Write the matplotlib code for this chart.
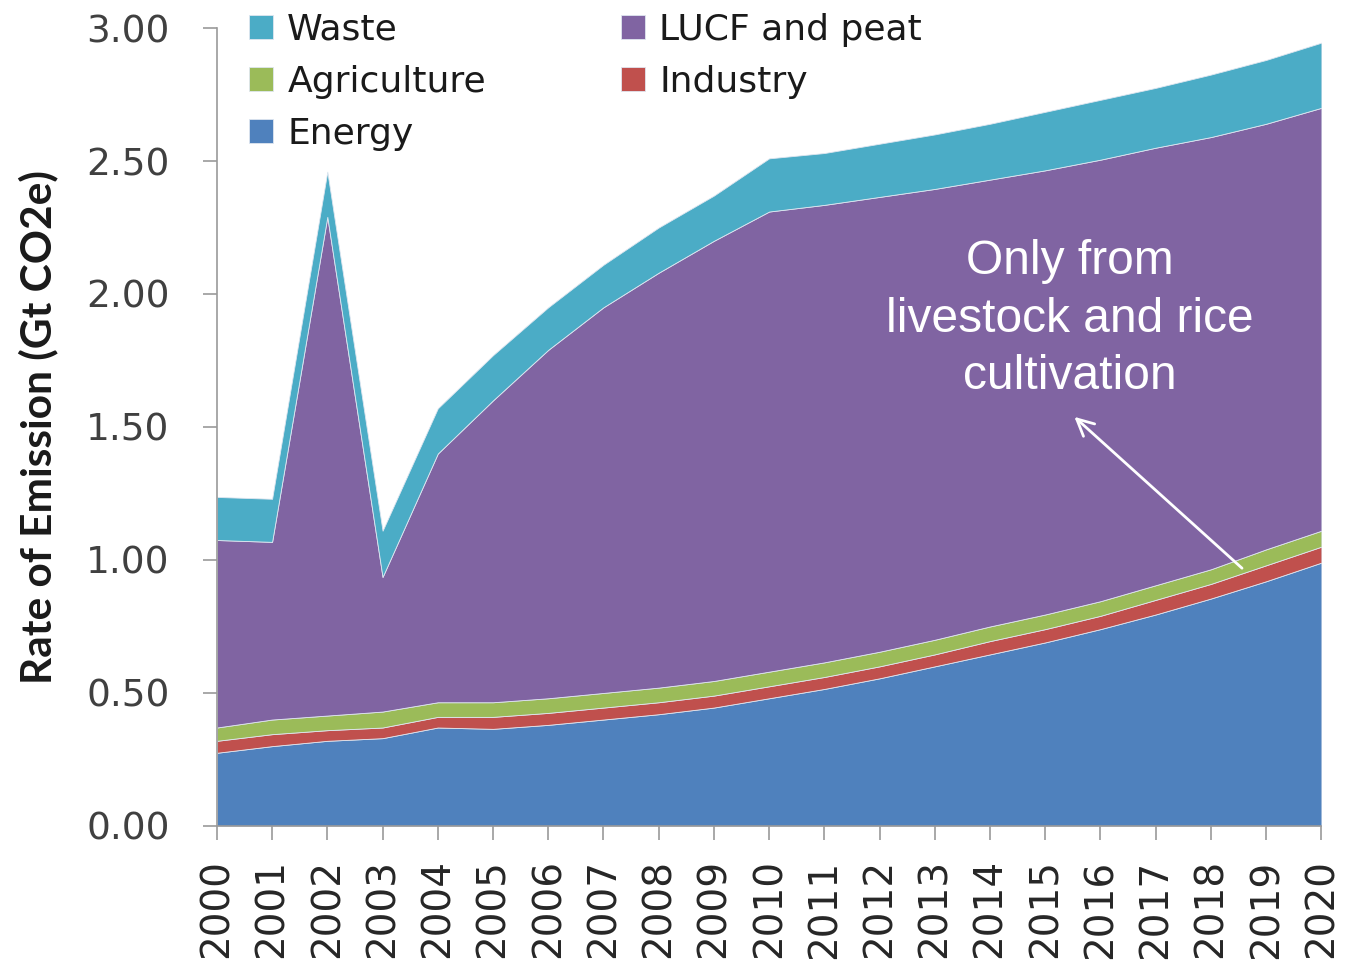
import matplotlib
matplotlib.use("Agg")
import matplotlib.pyplot as plt
import numpy as np

years = list(range(2000, 2021))
energy = [0.275, 0.30, 0.32, 0.33, 0.37, 0.365, 0.38, 0.40, 0.42, 0.445, 0.48,
          0.515, 0.555, 0.60, 0.645, 0.69, 0.74, 0.795, 0.855, 0.92, 0.99]
industry = [0.045, 0.045, 0.04, 0.04, 0.04, 0.045, 0.045, 0.045, 0.045, 0.045, 0.045,
            0.045, 0.045, 0.045, 0.05, 0.05, 0.05, 0.055, 0.055, 0.06, 0.06]
agriculture = [0.05, 0.055, 0.055, 0.06, 0.055, 0.055, 0.055, 0.055, 0.055, 0.055, 0.055,
               0.055, 0.055, 0.055, 0.055, 0.055, 0.055, 0.055, 0.055, 0.06, 0.06]
lucf = [0.705, 0.668, 1.875, 0.506, 0.935, 1.135, 1.31, 1.45, 1.56, 1.655, 1.73,
        1.72, 1.71, 1.695, 1.68, 1.67, 1.66, 1.645, 1.625, 1.60, 1.59]
waste = [0.162, 0.162, 0.17, 0.174, 0.17, 0.17, 0.16, 0.16, 0.17, 0.17, 0.20,
         0.195, 0.20, 0.205, 0.21, 0.22, 0.225, 0.225, 0.235, 0.24, 0.245]

labels = ["Energy", "Industry", "Agriculture", "LUCF and peat", "Waste"]
colors = ["#4F81BD", "#C0504D", "#9BBB59", "#8064A2", "#4BACC6"]
yticks = [0.0, 0.5, 1.0, 1.5, 2.0, 2.5, 3.0]

fig = plt.figure(figsize=(13.47, 9.66), dpi=100)
ax = fig.add_axes([0.161, 0.145, 0.820, 0.826])

polys = ax.stackplot(years, energy, industry, agriculture, lucf, waste,
                     colors=colors, labels=labels, edgecolor="#dfe6f0", linewidth=0.6)

ax.set_xlim(2000, 2020)
ax.set_ylim(0, 3.0)
ax.set_xticks(years)
ax.set_xticklabels([str(y) for y in years], rotation=90, fontsize=28,
                   color="#262626", family="DejaVu Sans")
ax.set_yticks(yticks)
ax.set_yticklabels([f"{v:.2f}" for v in yticks], fontsize=27, color="#404040",
                   family="DejaVu Sans")
for s in ["top", "right"]:
    ax.spines[s].set_visible(False)
for s in ["left", "bottom"]:
    ax.spines[s].set_color("#9a9a9a")
    ax.spines[s].set_linewidth(1.2)
ax.tick_params(axis="both", direction="out", length=10, width=1.2, color="#9a9a9a")
ax.tick_params(axis="x", pad=14)
ax.tick_params(axis="y", pad=24)

ax.set_ylabel("Rate of Emission (Gt CO2e)", fontsize=30.5, fontweight="bold",
              family="Lato", color="#1a1a1a", labelpad=20)

# legend order: Waste, Agriculture, Energy | LUCF and peat, Industry
h = {lab: p for lab, p in zip(labels, polys)}
order = ["Waste", "Agriculture", "Energy", "LUCF and peat", "Industry"]
leg = ax.legend([h[o] for o in order], order, ncol=2, loc="upper left",
                bbox_to_anchor=(0.0, 1.06), frameon=False,
                prop={"family": "DejaVu Sans", "size": 26},
                handlelength=0.65, handleheight=0.65, handletextpad=0.4,
                columnspacing=3.75, labelspacing=0.5)
for t in leg.get_texts():
    t.set_color("#1a1a1a")

ax.text(2015.44, 1.905, "Only from\nlivestock and rice\ncultivation", color="white",
        fontsize=34.5, family="Liberation Sans", ha="center", va="center",
        linespacing=1.36)
ax.annotate("", xy=(2015.49, 1.545), xytext=(2018.6, 0.962),
            arrowprops=dict(arrowstyle="->", color="white", lw=2,
                            mutation_scale=30))

fig.savefig("out.png", dpi=100)
